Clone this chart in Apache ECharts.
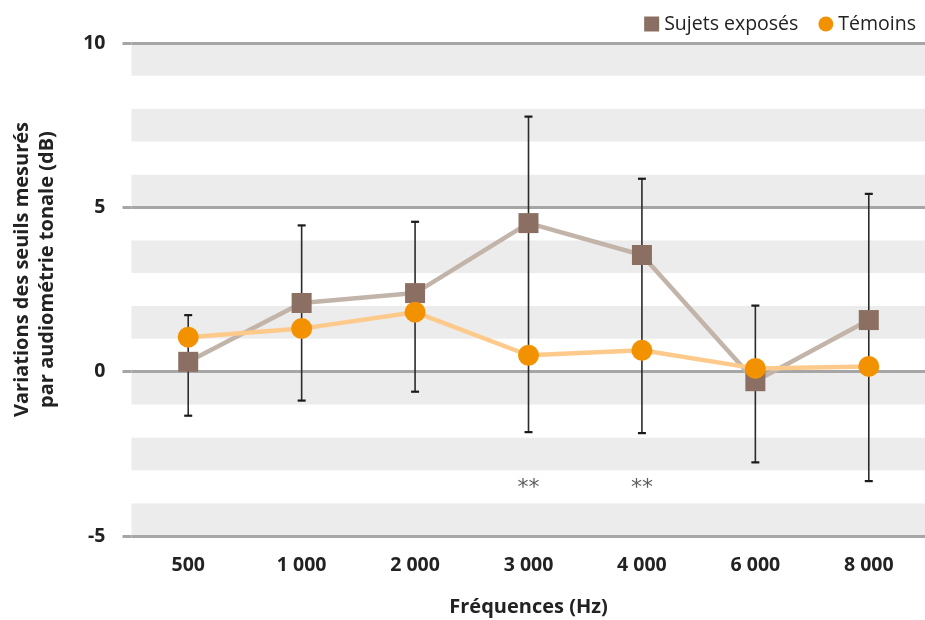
<!DOCTYPE html>
<html>
<head>
<meta charset="utf-8">
<script src="https://cdn.jsdelivr.net/npm/echarts@6/dist/echarts.min.js"></script>
<style>html,body{margin:0;padding:0;background:#fff}#c{width:925px;height:620px}</style>
</head>
<body>
<div id="c"></div>
<script>
const categories = ['500', '1 000', '2 000', '3 000', '4 000', '6 000', '8 000'];
const exposedValues = [0.30, 2.09, 2.39, 4.52, 3.55, -0.29, 1.57];
const controlValues = [1.05, 1.31, 1.81, 0.50, 0.65, 0.10, 0.16];
const errorLow = [-1.34, -0.88, -0.61, -1.84, -1.87, -2.76, -3.33];
const errorHigh = [1.72, 4.45, 4.56, 7.76, 5.87, 2.01, 5.41];
const sigCategories = ['3 000', '4 000'];
const sigValues = [-3.54, -3.54];
const sigLabel = '**';
const yTicks = [-5, 0, 5, 10];
const seriesNames = ['Sujets exposés', 'Témoins'];
const xAxisName = 'Fréquences (Hz)';
const yAxisName = 'Variations des seuils mesurés\npar audiométrie tonale (dB)';

const FONT = 'Open Sans';
const errorData = categories.map((c, i) => [i, errorLow[i], errorHigh[i]]);

const chart = echarts.init(document.getElementById('c'));
chart.setOption({
  animation: false,
  textStyle: { fontFamily: FONT },
  grid: { left: 131.5, width: 794, top: 43, height: 493, outerBoundsMode: 'none', containLabel: false },
  legend: {
    top: 9, right: 4, itemGap: 20, itemWidth: 15, itemHeight: 15,
    textStyle: { fontFamily: FONT, fontSize: 19.5, color: '#222' },
    data: [
      { name: seriesNames[0], icon: 'rect' },
      { name: seriesNames[1], icon: 'circle' }
    ]
  },
  xAxis: {
    type: 'category', data: categories, boundaryGap: true,
    axisLine: { show: false }, axisTick: { show: false },
    axisLabel: { fontFamily: FONT, fontWeight: 'bold', fontSize: 19.5, color: '#222', margin: 19 },
    name: xAxisName, nameLocation: 'middle', nameGap: 61,
    nameTextStyle: { fontFamily: FONT, fontWeight: 'bold', fontSize: 20, color: '#222' }
  },
  yAxis: [
    {
      type: 'value', min: -5, max: 10, interval: 1, position: 'left',
      axisLine: { show: false }, axisTick: { show: false }, axisLabel: { show: false },
      splitLine: { show: false },
      splitArea: { show: true, areaStyle: { color: ['#ebeceb', '#ffffff'] } }
    },
    {
      type: 'value', min: -5, max: 10, interval: 5, position: 'left', offset: 0,
      axisLine: { show: false },
      axisTick: { show: true, length: 9, lineStyle: { color: '#a6a6a6', width: 3 } },
      axisLabel: {
        fontFamily: FONT, fontWeight: 'bold', fontSize: 19.5, color: '#222', margin: 26,
        formatter: v => (yTicks.indexOf(v) >= 0 ? String(v) : '')
      },
      splitLine: { show: true, lineStyle: { color: '#a6a6a6', width: 3 } },
      name: yAxisName, nameLocation: 'middle', nameGap: 72, nameRotate: 90,
      nameTextStyle: { fontFamily: FONT, fontWeight: 'bold', fontSize: 20, color: '#222', lineHeight: 25, padding: [0, 0, 0, 40] }
    }
  ],
  series: [
    {
      type: 'custom', name: 'err', yAxisIndex: 1, z: 1, silent: true,
      data: errorData,
      renderItem: function (params, api) {
        const x = api.value(0);
        const lo = api.coord([x, api.value(1)]);
        const hi = api.coord([x, api.value(2)]);
        const w = 4;
        const st = { stroke: '#2b2b2b', lineWidth: 1.6 };
        return {
          type: 'group',
          children: [
            { type: 'line', shape: { x1: lo[0], y1: lo[1], x2: hi[0], y2: hi[1] }, style: st },
            { type: 'line', shape: { x1: lo[0] - w, y1: lo[1], x2: lo[0] + w, y2: lo[1] }, style: { stroke: '#1a1a1a', lineWidth: 2.2 } },
            { type: 'line', shape: { x1: hi[0] - w, y1: hi[1], x2: hi[0] + w, y2: hi[1] }, style: { stroke: '#1a1a1a', lineWidth: 2.2 } }
          ]
        };
      }
    },
    {
      type: 'line', name: seriesNames[0], yAxisIndex: 1, z: 3,
      data: exposedValues, symbol: 'rect', symbolSize: 20,
      itemStyle: { color: '#8b6f62' },
      lineStyle: { color: '#c3b4aa', width: 4.5 }
    },
    {
      type: 'line', name: seriesNames[1], yAxisIndex: 1, z: 4,
      data: controlValues, symbol: 'circle', symbolSize: 21,
      itemStyle: { color: '#f39200' },
      lineStyle: { color: '#fdca8c', width: 4.5 }
    },
    {
      type: 'scatter', name: 'sig', yAxisIndex: 1, z: 5, silent: true,
      symbolSize: 0,
      data: sigCategories.map((c, i) => [c, sigValues[i]]),
      label: { show: true, position: 'inside', formatter: sigLabel, fontFamily: 'DejaVu Sans', fontSize: 22, color: '#333', padding: [16, 0, 0, 0] }
    }
  ]
});
</script>
</body>
</html>
